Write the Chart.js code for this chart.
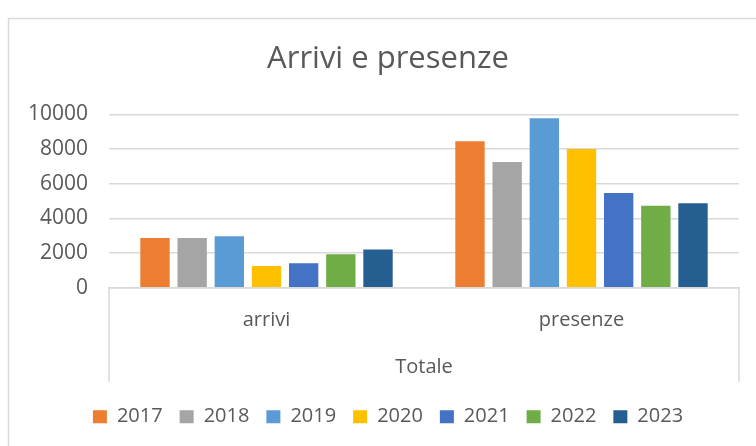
<!DOCTYPE html>
<html><head><meta charset="utf-8">
<script src="https://cdn.jsdelivr.net/npm/chart.js@4.4.1/dist/chart.umd.min.js"></script>
<style>
html,body{margin:0;padding:0;background:#fff;overflow:hidden;}
#wrap{position:relative;width:756px;height:446px;overflow:hidden;}
#wrap canvas{position:absolute;left:0;top:0;}
</style></head>
<body><div id="wrap"><canvas id="c" width="776" height="446" style="width:776px;height:446px"></canvas></div>
<script>
const chartTitle = 'Arrivi e presenze';
const categories = ['arrivi', 'presenze'];
const groupLabel = 'Totale';
const years = ['2017', '2018', '2019', '2020', '2021', '2022', '2023'];
const v2017 = [2870, 8440];
const v2018 = [2870, 7245];
const v2019 = [2960, 9765];
const v2020 = [1250, 7995];
const v2021 = [1405, 5460];
const v2022 = [1925, 4730];
const v2023 = [2210, 4865];
const yTicks = [0, 2000, 4000, 6000, 8000, 10000];
const colors = ['#ED7D31', '#A5A5A5', '#5B9BD5', '#FFC000', '#4472C4', '#70AD47', '#255E91'];

const seriesValues = [v2017, v2018, v2019, v2020, v2021, v2022, v2023];
const FONT = "'Open Sans', sans-serif";
const TXT = '#595959';
const LINE = '#D9D9D9';

const frame = {
  id: 'frame',
  beforeDraw(chart) {
    const ctx = chart.ctx;
    ctx.save();
    ctx.strokeStyle = LINE;
    ctx.lineWidth = 1.5;
    ctx.strokeRect(8.5, 18.5, chart.width + 20, chart.height + 20);
    ctx.restore();
  },
  afterDraw(chart) {
    const x = chart.scales.x;
    const ctx = chart.ctx;
    ctx.save();
    ctx.strokeStyle = LINE;
    ctx.lineWidth = 1.5;
    ctx.beginPath();
    ctx.moveTo(x.left, x.top);
    ctx.lineTo(x.left, x.bottom - 7.7);
    ctx.moveTo(x.right, x.top);
    ctx.lineTo(x.right, x.bottom - 7.7);
    ctx.stroke();
    ctx.restore();
  }
};

new Chart(document.getElementById('c'), {
  type: 'bar',
  data: {
    labels: categories,
    datasets: years.map((y, i) => ({
      label: y,
      data: seriesValues[i],
      backgroundColor: colors[i],
      borderWidth: 0,
      categoryPercentage: 0.826,
      barPercentage: 0.79
    }))
  },
  options: {
    responsive: false,
    animation: false,
    devicePixelRatio: 1,
    layout: { padding: { left: 0, right: 0, top: 0, bottom: 9.3 } },
    plugins: {
      title: {
        display: true,
        text: chartTitle,
        color: TXT,
        font: { family: FONT, size: 31, weight: 'normal', lineHeight: 1.2 },
        padding: { top: 40.7, bottom: 36.4 }
      },
      legend: {
        position: 'bottom',
        labels: {
          color: TXT,
          font: { family: FONT, size: 20 },
          boxWidth: 14,
          boxHeight: 13,
          padding: 17
        }
      },
      tooltip: { enabled: false }
    },
    scales: {
      x: {
        grid: { display: false, drawTicks: false },
        border: { display: true, color: LINE, width: 1.5 },
        ticks: { color: TXT, font: { family: FONT, size: 20 }, padding: 21 },
        title: {
          display: true, text: groupLabel, color: TXT,
          font: { family: FONT, size: 20, lineHeight: 1.2 },
          padding: { top: 0, bottom: 10.5 }
        },
        afterFit(s) { s.height = 102; }
      },
      y: {
        min: 0, max: 10000,
        afterBuildTicks(s) { s.ticks = yTicks.map(v => ({ value: v })); },
        grid: { color: LINE, lineWidth: 1.5, drawTicks: false },
        border: { display: false },
        ticks: { color: TXT, font: { family: FONT, size: 21 }, padding: 21, callback: v => String(v) },
        afterFit(s) { s.width = 109; }
      },
      yRight: {
        type: 'linear',
        position: 'right',
        display: true,
        grid: { display: false, drawTicks: false },
        border: { display: false },
        ticks: { display: false },
        afterFit(s) { s.width = 37; }
      }
    }
  },
  plugins: [frame]
});
</script>
</body></html>
